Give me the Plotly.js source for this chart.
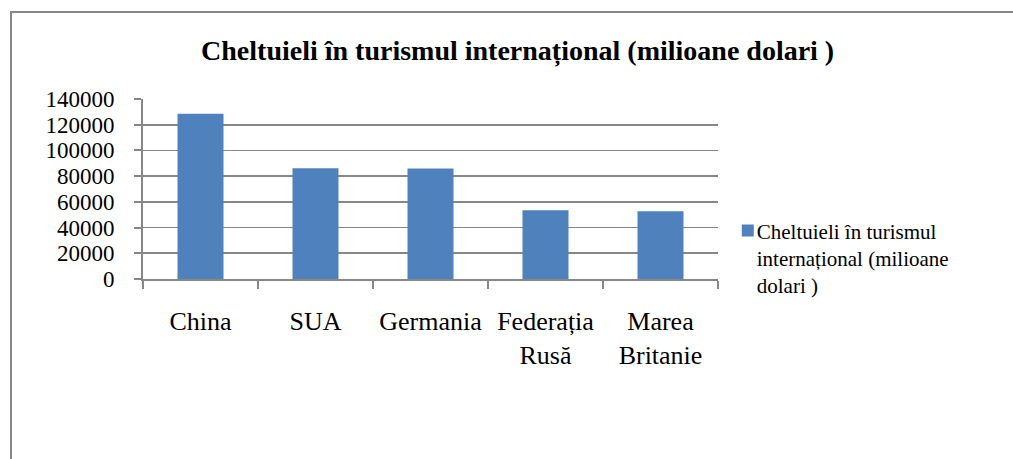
<!DOCTYPE html>
<html>
<head>
<meta charset="utf-8">
<script src="https://cdn.plot.ly/plotly-3.0.1.min.js"></script>
<style>
html,body{margin:0;padding:0;background:#fff;}
#wrap{position:relative;width:1013px;height:459px;overflow:hidden;}
#frame{position:absolute;left:10px;top:11px;width:1010px;height:460px;border-top:2px solid #888;border-left:2px solid #888;box-sizing:border-box;pointer-events:none;z-index:5;}
#chart{position:absolute;left:0;top:0;width:1013px;height:459px;}
</style>
</head>
<body>
<div id="wrap"><div id="chart"></div><div id="frame"></div></div>
<script>
const categories = ["China", "SUA", "Germania", "Federația<br>Rusă", "Marea<br>Britanie"];
const values = [128600, 86200, 85900, 53500, 52600];
const seriesName = "Cheltuieli în turismul<br>internațional (milioane<br>dolari )";
const yTicks = [0, 20000, 40000, 60000, 80000, 100000, 120000, 140000];
const titleText = "Cheltuieli în turismul internațional (milioane dolari )";

const serif = '"Liberation Serif", "Times New Roman", "DejaVu Serif", serif';
const data = [{
  type: "bar",
  x: categories,
  y: values,
  name: seriesName,
  marker: {color: "#4F81BD"},
  showlegend: true
}];
const layout = {
  width: 1013, height: 459,
  margin: {l: 143, r: 295, t: 98.5, b: 180, pad: 0},
  paper_bgcolor: "rgba(0,0,0,0)",
  plot_bgcolor: "#fff",
  title: {text: "<b>" + titleText + "</b>", font: {family: serif, size: 28, color: "#000"},
          x: 0.511, xanchor: "center", y: 0.891, yanchor: "middle", xref: "container", yref: "container"},
  bargap: 0.6,
  showlegend: true,
  legend: {x: 1.017, xanchor: "left", y: 0.382, yanchor: "top", valign: "top",
           font: {family: serif, size: 21, color: "#000"}, bgcolor: "rgba(0,0,0,0)",
           itemwidth: 30, tracegroupgap: 0},
  xaxis: {
    type: "category",
    showline: true, linecolor: "#878787", linewidth: 2,
    ticks: "outside", tickson: "boundaries", ticklen: 8, tickcolor: "#878787", tickwidth: 2,
    tickfont: {family: serif, size: 26, color: "#000"},
    ticklabelstandoff: 18,
    showgrid: false, zeroline: false, fixedrange: true
  },
  yaxis: {
    range: [0, 140000],
    tickvals: yTicks, ticktext: yTicks.map(String),
    showline: true, linecolor: "#878787", linewidth: 2,
    ticks: "outside", ticklen: 7, tickcolor: "#878787", tickwidth: 2,
    tickfont: {family: serif, size: 23, color: "#000"},
    ticklabelstandoff: 15,
    showgrid: true, gridcolor: "#878787", gridwidth: 1.6,
    zeroline: false, fixedrange: true
  }
};
Plotly.newPlot("chart", data, layout, {displayModeBar: false, staticPlot: true}).then(function (gd) {
  // pull legend label closer to its swatch, as in the reference
  gd.querySelectorAll(".legend .legendtext").forEach(function (t) {
    const x = parseFloat(t.getAttribute("x")) || 40;
    t.setAttribute("x", x - 11);
    t.querySelectorAll("tspan.line").forEach(function (s) {
      if (s.getAttribute("x") !== null) s.setAttribute("x", x - 11);
    });
  });
});
</script>
</body>
</html>
